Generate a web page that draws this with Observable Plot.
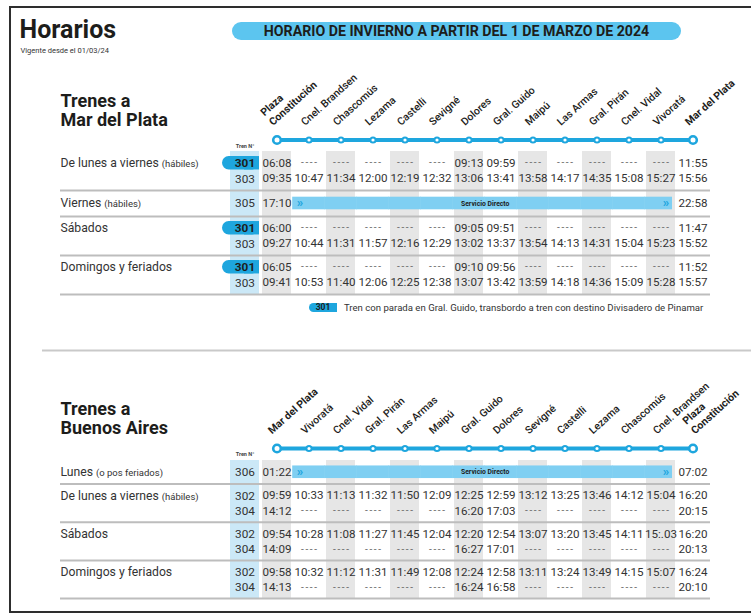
<!DOCTYPE html>
<html><head><meta charset="utf-8">
<script src="https://cdn.jsdelivr.net/npm/d3@7"></script>
<script src="https://cdn.jsdelivr.net/npm/@observablehq/plot@0.6"></script>
<style>
html,body{margin:0;padding:0;background:#fff;overflow:hidden;}
#page{position:relative;width:751px;height:614px;overflow:hidden;font-family:Roboto,"Open Sans",sans-serif;}
#frame{position:absolute;left:9px;top:6px;width:800px;height:603px;border:2px solid #2e2e2e;border-right:none;}
#chart{position:absolute;left:0;top:0;}
#header{position:absolute;left:232px;top:22px;width:449px;height:18px;border-radius:9px;background:#5cc5ef;
  display:flex;align-items:center;justify-content:center;font-weight:700;font-size:14.2px;color:#1d1d1b;}
#legend{position:absolute;left:309px;top:301.5px;height:12px;display:flex;align-items:center;}
#legend .pill{display:inline-block;width:28px;height:9.5px;line-height:9.5px;border-radius:5px 0 0 5px;background:#1ea6de;
  color:#1d1d1b;font-weight:700;font-size:8.5px;text-align:center;}
#legend .txt{margin-left:7px;font-size:9.6px;color:#333;white-space:nowrap;}
</style></head>
<body><div id="page">
<div id="frame"></div>
<div id="chart"></div>
<div id="header"></div>
<div id="legend"><span class="pill"></span><span class="txt"></span></div>
</div>
<script>
// ---------- text ----------
const pageTitle = "Horarios";
const pageSubtitle = "Vigente desde el 01/03/24";
const headerText = "HORARIO DE INVIERNO A PARTIR DEL 1 DE MARZO DE 2024";
const legendTrain = "301";
const legendText = "Tren con parada en Gral. Guido, transbordo a tren con destino Divisadero de Pinamar";
const trenHeader = "Tren N°";
const directText = "Servicio Directo";

// ---------- stations ----------
const stationsToMdp = ["Plaza\nConstitución","Cnel. Brandsen","Chascomús","Lezama","Castelli","Sevigné","Dolores","Gral. Guido","Maipú","Las Armas","Gral. Pirán","Cnel. Vidal","Vivoratá","Mar del Plata"];
const stationsToBa = ["Mar del Plata","Vivoratá","Cnel. Vidal","Gral. Pirán","Las Armas","Maipú","Gral. Guido","Dolores","Sevigné","Castelli","Lezama","Chascomús","Cnel. Brandsen","Plaza\nConstitución"];

// ---------- Trenes a Mar del Plata ----------
const mdpDays = ["De lunes a viernes","Viernes","Sábados","Domingos y feriados"];
const mdpNotes = ["(hábiles)","(hábiles)","",""];
const mdpTrains = [["301","303"],["305"],["301","303"],["301","303"]];
const mdpDirect = [false,true,false,false];
const mdpLV301 = ["06:08","----","----","----","----","----","09:13","09:59","----","----","----","----","----","11:55"];
const mdpLV303 = ["09:35","10:47","11:34","12:00","12:19","12:32","13:06","13:41","13:58","14:17","14:35","15:08","15:27","15:56"];
const mdpV305  = ["17:10","","","","","","","","","","","","","22:58"];
const mdpS301  = ["06:00","----","----","----","----","----","09:05","09:51","----","----","----","----","----","11:47"];
const mdpS303  = ["09:27","10:44","11:31","11:57","12:16","12:29","13:02","13:37","13:54","14:13","14:31","15:04","15:23","15:52"];
const mdpD301  = ["06:05","----","----","----","----","----","09:10","09:56","----","----","----","----","----","11:52"];
const mdpD303  = ["09:41","10:53","11:40","12:06","12:25","12:38","13:07","13:42","13:59","14:18","14:36","15:09","15:28","15:57"];
const mdpTimes = [[mdpLV301,mdpLV303],[mdpV305],[mdpS301,mdpS303],[mdpD301,mdpD303]];

// ---------- Trenes a Buenos Aires ----------
const baDays = ["Lunes","De lunes a viernes","Sábados","Domingos y feriados"];
const baNotes = ["(o pos feriados)","(hábiles)","",""];
const baTrains = [["306"],["302","304"],["302","304"],["302","304"]];
const baDirect = [true,false,false,false];
const baL306  = ["01:22","","","","","","","","","","","","","07:02"];
const baLV302 = ["09:59","10:33","11:13","11:32","11:50","12:09","12:25","12:59","13:12","13:25","13:46","14:12","15:04","16:20"];
const baLV304 = ["14:12","----","----","----","----","----","16:20","17:03","----","----","----","----","----","20:15"];
const baS302  = ["09:54","10:28","11:08","11:27","11:45","12:04","12:20","12:54","13:07","13:20","13:45","14:11","15:.03","16:20"];
const baS304  = ["14:09","----","----","----","----","----","16:27","17:01","----","----","----","----","----","20:13"];
const baD302  = ["09:58","10:32","11:12","11:31","11:49","12:08","12:24","12:58","13:11","13:24","13:49","14:15","15:07","16:24"];
const baD304  = ["14:13","----","----","----","----","----","16:24","16:58","----","----","----","----","----","20:10"];
const baTimes = [[baL306],[baLV302,baLV304],[baS302,baS304],[baD302,baD304]];

// ---------- style ----------
const W = 751, H = 614;
const BLUE = "#1ea6de", TRENBG = "#cbe8f7", DIRECT = "#7fcff2", GRAY = "#e6e6e6", SEP = "#bdbdbd";
const TXT = "#333333", DARK = "#1d1d1b";
const FONT = "Roboto, 'Open Sans', sans-serif";

document.getElementById("header").textContent = headerText;
document.querySelector("#legend .pill").textContent = legendTrain;
document.querySelector("#legend .txt").textContent = legendText;

const ctx = document.createElement("canvas").getContext("2d");
function textWidth(s, size) { ctx.font = `${size}px Roboto`; return ctx.measureText(s).width; }

const sections = [
  {stations: stationsToMdp, title: "Trenes a\nMar del Plata", days: mdpDays, notes: mdpNotes, trains: mdpTrains,
   times: mdpTimes, direct: mdpDirect, circleY: 139.5, colTop: 151, single: 26, pair: 39, pill: true, endDx: [-4, -4]},
  {stations: stationsToBa, title: "Trenes a\nBuenos Aires", days: baDays, notes: baNotes, trains: baTrains,
   times: baTimes, direct: baDirect, circleY: 448, colTop: 460, single: 23.5, pair: 38.2, pill: false, endDx: [-5, 2]}
];

function layout(s) {
  let top = s.colTop;
  const lines = [], seps = [], labels = [];
  s.days.forEach((day, g) => {
    const n = s.trains[g].length;
    const h = n === 1 ? s.single : s.pair;
    const first = lines.length;
    s.trains[g].forEach((train, i) => {
      const y = n === 1 ? top + h / 2 : top + 11.75 + i * 15.5;
      lines.push({train, y, times: s.times[g][i], direct: s.direct[g]});
    });
    labels.push({day, note: s.notes[g], y: lines[first].y});
    top += h;
    seps.push(top);
  });
  return {lines, seps, labels, bottom: top};
}

function sectionMarks(s) {
  const L = layout(s);
  const y1c = () => s.colTop, y2c = () => L.bottom;
  const marks = [];
  marks.push(Plot.barY(d3.range(0, 14, 2), {x: d => d, y1: y1c, y2: y2c, fill: GRAY}));
  marks.push(Plot.barY([-1], {x: d => d, y1: y1c, y2: y2c, fill: TRENBG}));
  const dl = L.lines.filter(l => l.direct);
  const dcells = dl.flatMap(l => d3.range(1, 12).map(c => ({c, y: l.y})));
  marks.push(Plot.barY(dcells, {x: "c", y1: d => d.y - 6.3, y2: d => d.y + 6.3, fill: DIRECT, insetLeft: -1.8, insetRight: -1.8}));
  marks.push(Plot.barY(dl.map(l => ({c: 12, y: l.y})), {x: "c", y1: d => d.y - 6.3, y2: d => d.y + 6.3, fill: DIRECT, insetLeft: -1.8, insetRight: 3}));
  marks.push(Plot.text(dl, {x: () => 1, y: "y", text: () => "»", dx: -9, dy: -0.5, fontSize: 13, fontWeight: "bold", fill: BLUE}));
  marks.push(Plot.text(dl, {x: () => 12, y: "y", text: () => "»", dx: 5, dy: -0.5, fontSize: 13, fontWeight: "bold", fill: BLUE}));
  marks.push(Plot.text(dl, {x: () => 6, y: "y", text: () => directText, dx: 16.2, fontSize: 6.8, fontWeight: "bold", fill: DARK}));
  marks.push(Plot.ruleY(L.seps, {stroke: SEP, strokeWidth: 2, insetLeft: 60, insetRight: 41}));
  const pl = s.pill ? L.lines.filter(l => l.train === legendTrain) : [];
  marks.push(Plot.barY(pl, {x: () => -1, y1: d => d.y - 6.7, y2: d => d.y + 6.7, fill: BLUE, insetLeft: -8, rx: 6.7}));
  marks.push(Plot.barY(pl, {x: () => -1, y1: d => d.y - 6.7, y2: d => d.y + 6.7, fill: BLUE, insetLeft: 14}));
  marks.push(Plot.text(L.lines.filter(l => !pl.includes(l)), {x: () => -1, y: "y", text: "train", fontSize: 11.8, fill: TXT}));
  marks.push(Plot.text(pl, {x: () => -1, y: "y", text: "train", fontSize: 11.8, fontWeight: "bold", fill: DARK}));
  const cells = L.lines.flatMap(l => l.times.map((t, c) => ({c, t, y: l.y}))).filter(d => d.t);
  marks.push(Plot.text(cells.filter(d => d.t !== "----"), {x: "c", y: "y", text: "t", fontSize: 11.6, fill: TXT}));
  marks.push(Plot.text(cells.filter(d => d.t === "----"), {x: "c", y: "y", text: "t", fontSize: 10, dx: 0.8, fill: "#6e6e6e"}));
  for (const lab of L.labels) {
    marks.push(Plot.text([lab], {frameAnchor: "left", dx: 60, y: "y", text: "day", textAnchor: "start", fontSize: 12.2, fill: TXT}));
    if (lab.note) {
      const w = textWidth(lab.day, 12.2);
      marks.push(Plot.text([lab], {frameAnchor: "left", dx: 60 + w + 3, dy: 0.86, y: "y", text: "note", textAnchor: "start", fontSize: 9.5, fill: TXT}));
    }
  }
  marks.push(Plot.text([trenHeader], {x: () => -1, y: () => s.circleY + 6, text: d => d, fontSize: 5.5, fontWeight: "bold", fill: "#444"}));
  marks.push(Plot.line(d3.range(14), {x: d => d, y: () => s.circleY, stroke: BLUE, strokeWidth: 4}));
  marks.push(Plot.dot(d3.range(1, 13), {x: d => d, y: () => s.circleY, r: 2.6, fill: "white", stroke: BLUE, strokeWidth: 2}));
  marks.push(Plot.dot([0, 13], {x: d => d, y: () => s.circleY, r: 3.8, fill: "white", stroke: BLUE, strokeWidth: 2.6}));
  const st = s.stations.map((name, c) => ({name, c}));
  const common = {y: () => s.circleY, text: "name", rotate: -42, textAnchor: "start", lineAnchor: "bottom", dy: -14, fontSize: 10.5, fill: DARK};
  marks.push(Plot.text(st.filter(d => d.c > 0 && d.c < 13), {...common, x: "c", dx: -4, fontWeight: 500}));
  marks.push(Plot.text(st.filter(d => d.c === 0), {...common, x: "c", dx: s.endDx[0], fontWeight: "bold", lineHeight: 1.22}));
  marks.push(Plot.text(st.filter(d => d.c === 13), {...common, x: "c", dx: s.endDx[1], fontWeight: "bold", lineHeight: 1.22}));
  marks.push(Plot.text([s.title], {frameAnchor: "left", dx: 60, y: () => s.circleY - 30, text: d => d, textAnchor: "start",
    fontSize: 18, fontWeight: "bold", lineHeight: 19 / 18, fill: DARK}));
  return marks;
}

const chart = Plot.plot({
  width: W, height: H, margin: 0,
  x: {type: "band", domain: d3.range(-1, 14), range: [224, 714], paddingInner: 0.08, paddingOuter: 0.08, align: 0.5, axis: null},
  y: {type: "linear", domain: [0, H], range: [0, H], axis: null},
  style: {fontFamily: FONT, background: "transparent", overflow: "visible"},
  marks: [
    Plot.text([pageTitle], {frameAnchor: "left", dx: 19, y: () => 29, text: d => d, textAnchor: "start", fontSize: 25, fontWeight: "bold", fill: DARK}),
    Plot.text([pageSubtitle], {frameAnchor: "left", dx: 20, y: () => 50, text: d => d, textAnchor: "start", fontSize: 7.5, fill: TXT}),
    Plot.ruleY([350], {stroke: "#c9c9c9", strokeWidth: 2, insetLeft: 42}),
    ...sectionMarks(sections[0]),
    ...sectionMarks(sections[1])
  ]
});
// dashed placeholders: open up the hyphens a little
d3.select(chart).selectAll("text").filter(function() { return this.textContent === "----"; }).style("letter-spacing", "1.6px");
document.getElementById("chart").appendChild(chart);
</script>
</body></html>
